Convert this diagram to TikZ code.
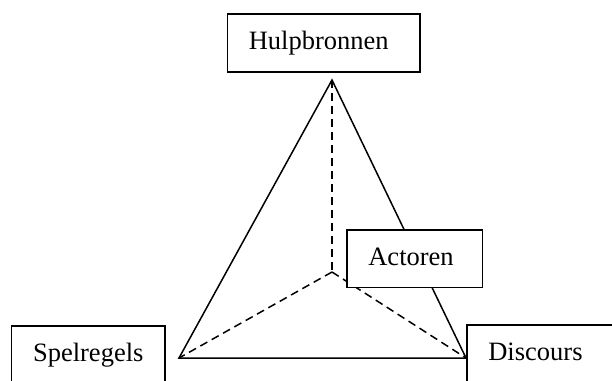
\documentclass[tikz,border=0pt]{standalone}
\usepackage{fontspec}
\setmainfont{Liberation Serif}
\begin{document}
\begin{tikzpicture}[x=1pt,y=-1pt,
  lbl/.style={draw=black, line width=1.7pt, fill=white, anchor=north west,
    inner xsep=21.5pt, inner ysep=0pt, text height=35.7pt, align=left,
    font=\fontsize{26.5}{30}\selectfont},
  side/.style={line width=1.5pt},
  hidden/.style={line width=1.5pt, dash pattern=on 8pt off 5pt}]
\useasboundingbox (0,0) rectangle (612,380);
\clip (0,0) rectangle (612,380);
\coordinate (top) at (332,80);
\coordinate (left) at (179,358);
\coordinate (right) at (466,358);
\coordinate (centre) at (332,272);
\draw[side] (left) -- (top) -- (right) -- cycle;
\draw[hidden] (top) -- (centre);
\draw[hidden] (centre) -- (left);
\draw[hidden] (centre) -- (right);
\node[lbl, text width=149.5pt, text depth=22pt] (hulp) at (226.5,13.3) {Hulpbronnen};
\node[lbl, text width=92.7pt, text depth=21.7pt] (act) at (346,229.3) {Actoren};
\node[lbl, text width=110.6pt, text depth=22pt] (spel) at (10.7,325) {Spelregels};
\node[lbl, text width=120pt, text depth=22pt] (disc) at (466,324) {Discours};
\end{tikzpicture}
\end{document}
